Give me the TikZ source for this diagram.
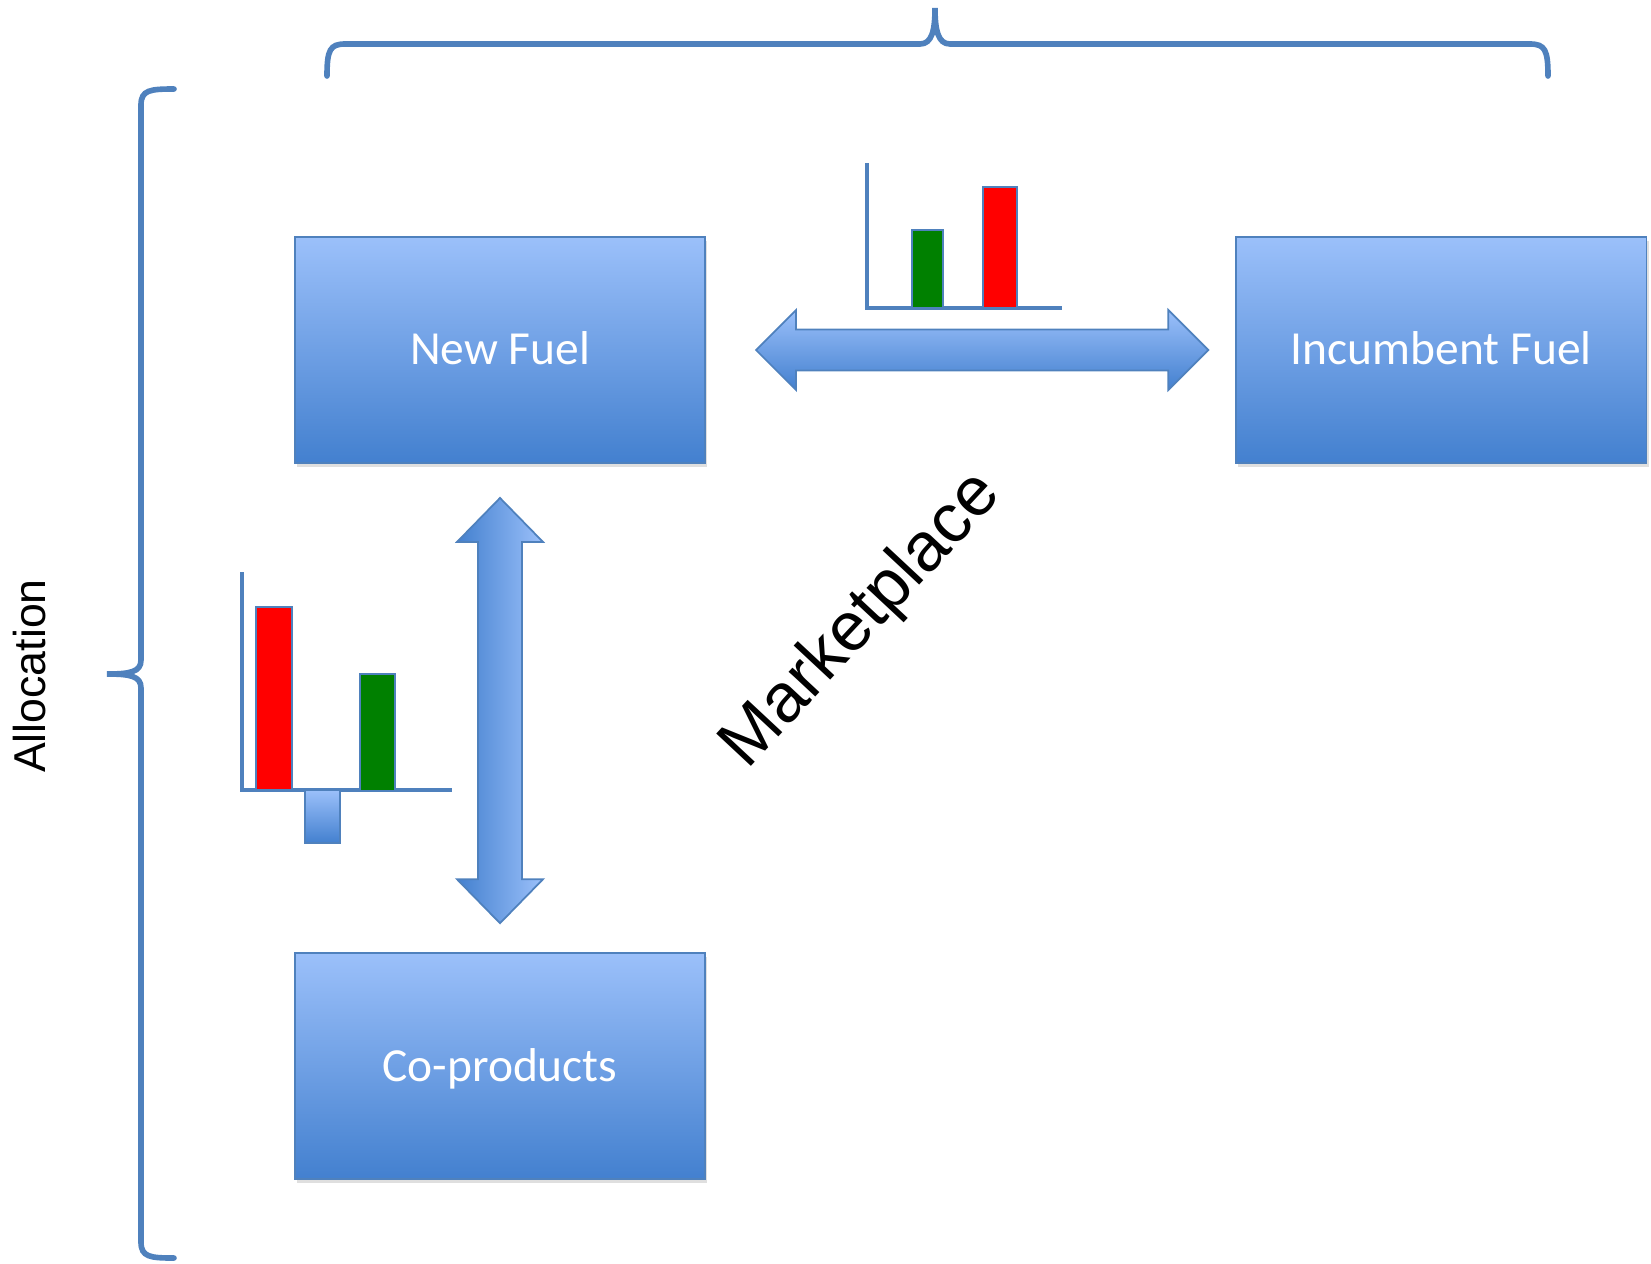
\documentclass[tikz,border=0pt]{standalone}
\usepackage{fontspec}
\setmainfont{Carlito}
\newfontfamily\arialfont{Liberation Sans}
\usetikzlibrary{positioning,calc,shadows}
\definecolor{boxtop}{HTML}{9BC0FA}
\definecolor{boxbottom}{HTML}{4380CF}
\definecolor{lineblue}{HTML}{4F81BD}
\definecolor{bargreen}{HTML}{008000}
\begin{document}
\begin{tikzpicture}[
      x = 0.01cm, y = -0.01cm,
      fuel/.style = {rectangle, draw = lineblue, line width = 0.5pt,
            minimum width = 4.1cm, minimum height = 2.26cm,
            top color = boxtop, bottom color = boxbottom, text = white,
            font = \fontsize{13.5}{16}\selectfont, text height = 0.85em, text depth = 0pt,
            drop shadow = {opacity = 0.25, shadow xshift = 0.6pt, shadow yshift = -1.2pt}},
      blockarrow/.style = {draw = lineblue, line width = 0.5pt},
      bracestroke/.style = {draw = lineblue, line width = 1.6pt, line cap = round},
      axisline/.style = {draw = lineblue, line width = 1.2pt},
      bar/.style = {draw = lineblue, line width = 0.6pt},
      sidelabel/.style = {font = \arialfont\fontsize{12.7}{15}\selectfont, inner sep = 0pt}
      ]
      \useasboundingbox (0,0) rectangle (1651,1263);
      \node[fuel] (newfuel) at (500,350) {New Fuel};
      \node[fuel, right = 5.29cm of newfuel] (incumbent) {Incumbent Fuel};
      \node[fuel, below = 4.88cm of newfuel] (coproducts) {Co-products};

      \coordinate (ha) at ($(newfuel.east)+(50,0)$);
      \coordinate (hb) at ($(incumbent.west)+(-27,0)$);
      \draw[blockarrow, top color = boxtop, bottom color = boxbottom]
            (ha) -- ++(40,-40) -- ++(0,19.5) -- ($(hb)+(-40,-20.5)$) -- ++(0,-19.5)
            -- (hb) -- ++(-40,40) -- ++(0,-19.5) -- ($(ha)+(40,20.5)$) -- ++(0,19.5) -- cycle;

      \coordinate (va) at ($(newfuel.south)+(0,34)$);
      \coordinate (vb) at ($(coproducts.north)+(0,-29)$);
      \draw[blockarrow, left color = boxbottom, right color = boxtop]
            (va) -- ++(43,44) -- ++(-21,0) -- ($(vb)+(22,-44)$) -- ++(21,0)
            -- (vb) -- ++(-43,-44) -- ++(21,0) -- ($(va)+(-22,44)$) -- ++(-21,0) -- cycle;

      \draw[axisline] (867,163) -- (867,308) -- (1062,308);
      \draw[bar, fill = bargreen] (912,230) rectangle (943,308);
      \draw[bar, fill = red] (983,187) rectangle (1017,308);

      \draw[axisline] (242,572) -- (242,790) -- (452,790);
      \draw[bar, fill = red] (256,607) rectangle (292,790);
      \draw[bar, top color = boxtop, bottom color = boxbottom] (305,790) rectangle (340,843);
      \draw[bar, fill = bargreen] (360,674) rectangle (395,791);

      \draw[bracestroke] (327,76) .. controls (327,50) and (330,44) .. (345,44) -- (920,44)
            .. controls (932,44) and (935,30) .. (935,8) .. controls (935,30) and (938,44) .. (950,44)
            -- (1530,44) .. controls (1545,44) and (1548,50) .. (1548,76);
      \draw[bracestroke] (174,89) .. controls (150,89) and (141,90) .. (141,105) -- (141,660)
            .. controls (141,672) and (130,674) .. (107,674) .. controls (130,674) and (141,676) .. (141,688)
            -- (141,1242) .. controls (141,1257) and (150,1258) .. (174,1258);

      \node[sidelabel, rotate = 90] (allocation) at (30,676) {Allocation};
      \node[sidelabel, rotate = 47, font = \arialfont\fontsize{19.6}{23}\selectfont] (marketplace) at (862,621) {Marketplace};
\end{tikzpicture}
\end{document}
